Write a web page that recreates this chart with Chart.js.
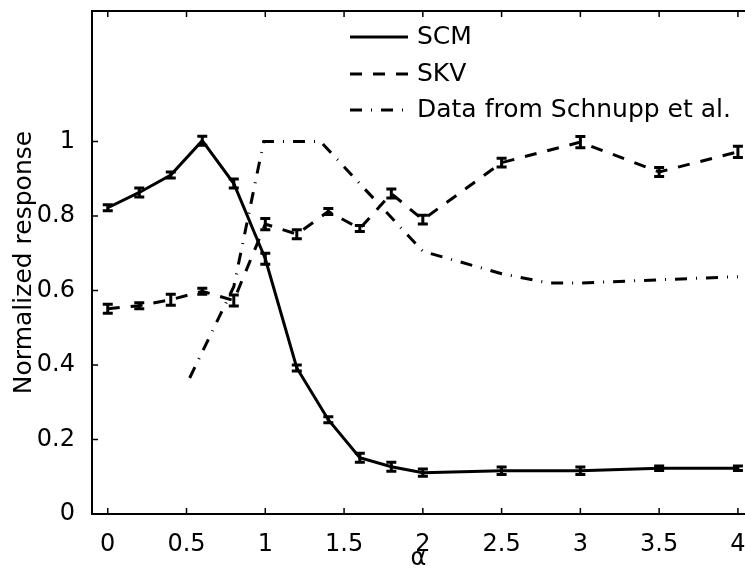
<!DOCTYPE html>
<html lang="en">
<head>
<meta charset="utf-8" />
<title>Normalized response vs alpha</title>
<style>
*{margin:0;padding:0}
body{background:#fff;width:745px;height:574px;overflow:hidden}
canvas{display:block}
</style>
</head>
<body>
<canvas id="chart" width="745" height="574"></canvas>

<script src="https://cdn.jsdelivr.net/npm/chart.js@4.4.1"></script>
<script>
/* ─── values ───────────────────────────────────────────── */
const alphas  = [0, 0.2, 0.4, 0.6, 0.8, 1.0, 1.2, 1.4, 1.6, 1.8, 2.0, 2.5, 3.0, 3.5, 4.0];

const scmVals = [0.822, 0.863, 0.910, 1.002, 0.887, 0.685, 0.392, 0.253, 0.151, 0.127, 0.111, 0.116, 0.116, 0.123, 0.123];
const scmErr  = [0.008, 0.012, 0.008, 0.012, 0.012, 0.015, 0.008, 0.008, 0.012, 0.012, 0.010, 0.010, 0.010, 0.006, 0.006];

const skvVals = [0.551, 0.559, 0.575, 0.598, 0.573, 0.778, 0.751, 0.812, 0.766, 0.860, 0.790, 0.943, 0.998, 0.918, 0.972];
const skvErr  = [0.012, 0.008, 0.015, 0.008, 0.015, 0.015, 0.012, 0.008, 0.008, 0.012, 0.012, 0.012, 0.015, 0.012, 0.015];

const schnuppX = [0.52, 0.80, 0.99, 1.35, 2.0, 2.5, 2.8, 3.0, 4.0];
const schnuppY = [0.365, 0.61, 1.0, 1.0, 0.705, 0.645, 0.62, 0.62, 0.637];

const xTicks = [0, 0.5, 1, 1.5, 2, 2.5, 3, 3.5, 4];
const yTicks = [0, 0.2, 0.4, 0.6, 0.8, 1];

const FONT = 'DejaVu Sans';

const pts = (xs, ys) => xs.map((x, i) => ({x, y: ys[i]}));

/* frame with inward ticks, error bars, legend */
const decor = {
    id: 'decor',
    afterDatasetsDraw(chart){
        const {ctx, chartArea: a, scales: {x, y}} = chart;
        ctx.save();
        ctx.strokeStyle = '#000';
        ctx.lineCap = 'butt';

        // error bars
        chart.data.datasets.forEach(ds => {
            if (!ds.errors) return;
            ctx.lineWidth = 3;
            ds.data.forEach((p, i) => {
                const px = x.getPixelForValue(p.x);
                const y1 = y.getPixelForValue(p.y - ds.errors[i]);
                const y2 = y.getPixelForValue(p.y + ds.errors[i]);
                ctx.beginPath();
                ctx.moveTo(px, y1); ctx.lineTo(px, y2);
                ctx.moveTo(px - 5, y1); ctx.lineTo(px + 5, y1);
                ctx.moveTo(px - 5, y2); ctx.lineTo(px + 5, y2);
                ctx.stroke();
            });
        });

        // box (left, top, bottom) - right side is cut off in the figure
        ctx.lineWidth = 2;
        ctx.beginPath();
        ctx.moveTo(a.right, a.top); ctx.lineTo(a.left, a.top);
        ctx.lineTo(a.left, a.bottom); ctx.lineTo(a.right, a.bottom);
        ctx.stroke();

        // ticks pointing inwards
        ctx.lineWidth = 1.5;
        ctx.beginPath();
        xTicks.forEach(v => {
            const px = x.getPixelForValue(v);
            ctx.moveTo(px, a.bottom); ctx.lineTo(px, a.bottom - 6);
            ctx.moveTo(px, a.top);    ctx.lineTo(px, a.top + 6);
        });
        yTicks.forEach(v => {
            const py = y.getPixelForValue(v);
            ctx.moveTo(a.left, py); ctx.lineTo(a.left + 6, py);
        });
        ctx.stroke();

        // legend
        const rows = [37, 74, 110];
        ctx.font = `25px "${FONT}"`;
        ctx.fillStyle = '#000';
        ctx.textBaseline = 'middle';
        chart.data.datasets.forEach((ds, i) => {
            ctx.setLineDash(ds.borderDash || []);
            ctx.lineWidth = ds.borderWidth;
            ctx.beginPath();
            ctx.moveTo(350, rows[i]); ctx.lineTo(408, rows[i]);
            ctx.stroke();
            ctx.setLineDash([]);
            ctx.fillText(ds.label, 417, rows[i]);
        });
        ctx.restore();
    }
};

const tickFont = {family: FONT, size: 24};
const noPad = s => { s.paddingTop = 0; s.paddingBottom = 0; s.paddingLeft = 0; s.paddingRight = 0; };

new Chart(document.getElementById('chart'), {
    type: 'line',
    data: {
        datasets: [
            {label: 'SCM', data: pts(alphas, scmVals), errors: scmErr,
             borderColor: '#000', borderWidth: 3, pointRadius: 0, tension: 0},
            {label: 'SKV', data: pts(alphas, skvVals), errors: skvErr,
             borderColor: '#000', borderWidth: 3, borderDash: [12, 11], pointRadius: 0, tension: 0},
            {label: 'Data from Schnupp et al.', data: pts(schnuppX, schnuppY),
             borderColor: '#000', borderWidth: 3, borderDash: [12, 9, 1, 9], pointRadius: 0, tension: 0}
        ]
    },
    options: {
        responsive: false,
        animation: false,
        layout: {padding: {top: 11, right: 0, bottom: 0, left: 0}},
        plugins: {legend: {display: false}, tooltip: {enabled: false}},
        scales: {
            x: {
                type: 'linear', min: -0.1, max: 4.045,
                afterBuildTicks: s => { s.ticks = xTicks.map(v => ({value: v})); },
                afterFit: s => { s.height = 60; noPad(s); },
                grid: {display: false}, border: {display: false},
                ticks: {font: tickFont, color: '#000', padding: 8, autoSkip: false, maxRotation: 0,
                        callback: v => String(v)},
                title: {display: true, text: 'α', color: '#000',
                        font: {family: FONT, size: 24}, padding: {top: 0, bottom: 1}}
            },
            y: {
                min: 0, max: 1.35,
                afterBuildTicks: s => { s.ticks = yTicks.map(v => ({value: v})); },
                afterFit: s => { s.width = 92; noPad(s); },
                grid: {display: false}, border: {display: false},
                ticks: {font: tickFont, color: '#000', padding: 9, autoSkip: false,
                        callback: v => String(v)},
                title: {display: true, text: 'Normalized response', color: '#000',
                        font: {family: FONT, size: 25}, padding: {top: 9, bottom: 0}}
            }
        }
    },
    plugins: [decor]
});
</script>
</body>
</html>
